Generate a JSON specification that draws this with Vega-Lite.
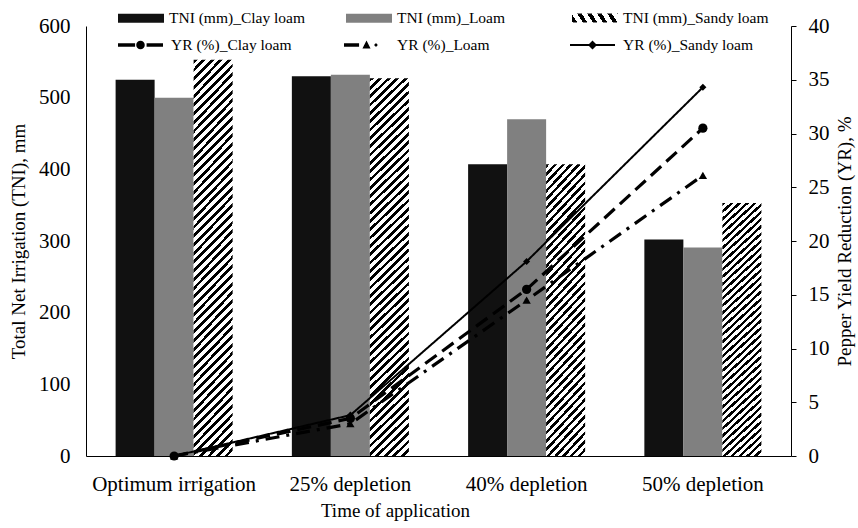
{
  "$schema": "https://vega.github.io/schema/vega-lite/v6.json",
  "width": 705,
  "height": 430,
  "autosize": "none",
  "padding": {"left": 86, "top": 26, "right": 67, "bottom": 72},
  "background": "#ffffff",
  "data": {
    "values": [
      {"time": "Optimum irrigation", "soil": "Clay loam", "tniSeries": "TNI (mm)_Clay loam", "yrSeries": "YR (%)_Clay loam", "TNI": 525, "YR": 0},
      {"time": "Optimum irrigation", "soil": "Loam", "tniSeries": "TNI (mm)_Loam", "yrSeries": "YR (%)_Loam", "TNI": 500, "YR": 0},
      {"time": "Optimum irrigation", "soil": "Sandy loam", "tniSeries": "TNI (mm)_Sandy loam", "yrSeries": "YR (%)_Sandy loam", "TNI": 553, "YR": 0},
      {"time": "25% depletion", "soil": "Clay loam", "tniSeries": "TNI (mm)_Clay loam", "yrSeries": "YR (%)_Clay loam", "TNI": 530, "YR": 3.5},
      {"time": "25% depletion", "soil": "Loam", "tniSeries": "TNI (mm)_Loam", "yrSeries": "YR (%)_Loam", "TNI": 532, "YR": 3.0},
      {"time": "25% depletion", "soil": "Sandy loam", "tniSeries": "TNI (mm)_Sandy loam", "yrSeries": "YR (%)_Sandy loam", "TNI": 527, "YR": 3.8},
      {"time": "40% depletion", "soil": "Clay loam", "tniSeries": "TNI (mm)_Clay loam", "yrSeries": "YR (%)_Clay loam", "TNI": 407, "YR": 15.5},
      {"time": "40% depletion", "soil": "Loam", "tniSeries": "TNI (mm)_Loam", "yrSeries": "YR (%)_Loam", "TNI": 470, "YR": 14.5},
      {"time": "40% depletion", "soil": "Sandy loam", "tniSeries": "TNI (mm)_Sandy loam", "yrSeries": "YR (%)_Sandy loam", "TNI": 407, "YR": 18.1},
      {"time": "50% depletion", "soil": "Clay loam", "tniSeries": "TNI (mm)_Clay loam", "yrSeries": "YR (%)_Clay loam", "TNI": 302, "YR": 30.5},
      {"time": "50% depletion", "soil": "Loam", "tniSeries": "TNI (mm)_Loam", "yrSeries": "YR (%)_Loam", "TNI": 291, "YR": 26.1},
      {"time": "50% depletion", "soil": "Sandy loam", "tniSeries": "TNI (mm)_Sandy loam", "yrSeries": "YR (%)_Sandy loam", "TNI": 353, "YR": 34.3}
    ]
  },
  "encoding": {
    "x": {
      "field": "time", "type": "nominal",
      "sort": ["Optimum irrigation", "25% depletion", "40% depletion", "50% depletion"],
      "scale": {"paddingInner": 0.336, "paddingOuter": 0.168},
      "axis": {"title": "Time of application", "labelAngle": 0, "ticks": false, "tickSize": 0, "labelPadding": 17, "titlePadding": 7, "titleX": 309}
    }
  },
  "layer": [
    {
      "mark": {"type": "bar", "strokeWidth": 0},
      "encoding": {
        "xOffset": {"field": "soil", "type": "nominal", "sort": ["Clay loam", "Loam", "Sandy loam"], "scale": {"paddingInner": 0, "paddingOuter": 0}},
        "y": {
          "field": "TNI", "type": "quantitative",
          "scale": {"domain": [0, 600], "nice": false},
          "axis": {"title": "Total Net Irrigation (TNI), mm", "values": [0, 100, 200, 300, 400, 500, 600], "ticks": false, "tickSize": 0, "labelPadding": 16, "titlePadding": 10}
        },
        "stroke": {
          "field": "tniSeries", "type": "nominal",
          "scale": {"domain": ["TNI (mm)_Sandy loam"], "range": ["#000000"]},
          "legend": {
            "title": null, "orient": "none", "legendX": 486, "legendY": -31, "direction": "horizontal",
            "symbolType": "M-1,-0.2H1V0.2H-1Z", "symbolSize": 2116, "symbolStrokeWidth": 0, "symbolOpacity": 1, "labelOffset": 5, "padding": 0,
            "encode": {
              "symbols": {
                "update": {
                  "fill": {"value": {"gradient": "linear", "x1": 0, "y1": 0, "x2": 1.1539, "y2": 0.2308, "stops": [
                    {"offset": 0, "color": "#000"}, {"offset": 0.0833, "color": "#000"}, {"offset": 0.0833, "color": "#fff"}, {"offset": 0.1667, "color": "#fff"},
                    {"offset": 0.1667, "color": "#000"}, {"offset": 0.25, "color": "#000"}, {"offset": 0.25, "color": "#fff"}, {"offset": 0.3333, "color": "#fff"},
                    {"offset": 0.3333, "color": "#000"}, {"offset": 0.4167, "color": "#000"}, {"offset": 0.4167, "color": "#fff"}, {"offset": 0.5, "color": "#fff"},
                    {"offset": 0.5, "color": "#000"}, {"offset": 0.5833, "color": "#000"}, {"offset": 0.5833, "color": "#fff"}, {"offset": 0.6667, "color": "#fff"},
                    {"offset": 0.6667, "color": "#000"}, {"offset": 0.75, "color": "#000"}, {"offset": 0.75, "color": "#fff"}, {"offset": 0.8333, "color": "#fff"},
                    {"offset": 0.8333, "color": "#000"}, {"offset": 0.9167, "color": "#000"}, {"offset": 0.9167, "color": "#fff"}, {"offset": 1, "color": "#fff"}
                  ]}},
                  "strokeWidth": {"value": 0}
                }
              }
            }
          }
        },
        "fill": {
          "field": "tniSeries", "type": "nominal",
          "scale": {"domain": ["TNI (mm)_Clay loam", "TNI (mm)_Loam"], "range": ["#111111", "#808080"]},
          "legend": {
            "title": null, "orient": "none", "legendX": 32, "legendY": -31, "direction": "horizontal", "columns": 2, "gridAlign": "all", "columnPadding": 40,
            "symbolType": "M-1,-0.2H1V0.2H-1Z", "symbolSize": 2116, "symbolStrokeWidth": 0, "symbolOpacity": 1, "labelOffset": 5, "padding": 0
          },
          "condition": [
            {"test": "datum.soil === 'Sandy loam' && datum.TNI > 500", "value": {"gradient": "linear", "x1": 0, "y1": 0, "x2": 0.1098, "y2": 1.0897, "stops": [
              {"offset": 0, "color": "#000"}, {"offset": 0.009, "color": "#000"}, {"offset": 0.009, "color": "#fff"}, {"offset": 0.02, "color": "#fff"},
              {"offset": 0.02, "color": "#000"}, {"offset": 0.029, "color": "#000"}, {"offset": 0.029, "color": "#fff"}, {"offset": 0.04, "color": "#fff"},
              {"offset": 0.04, "color": "#000"}, {"offset": 0.049, "color": "#000"}, {"offset": 0.049, "color": "#fff"}, {"offset": 0.06, "color": "#fff"},
              {"offset": 0.06, "color": "#000"}, {"offset": 0.069, "color": "#000"}, {"offset": 0.069, "color": "#fff"}, {"offset": 0.08, "color": "#fff"},
              {"offset": 0.08, "color": "#000"}, {"offset": 0.089, "color": "#000"}, {"offset": 0.089, "color": "#fff"}, {"offset": 0.1, "color": "#fff"},
              {"offset": 0.1, "color": "#000"}, {"offset": 0.109, "color": "#000"}, {"offset": 0.109, "color": "#fff"}, {"offset": 0.12, "color": "#fff"},
              {"offset": 0.12, "color": "#000"}, {"offset": 0.129, "color": "#000"}, {"offset": 0.129, "color": "#fff"}, {"offset": 0.14, "color": "#fff"},
              {"offset": 0.14, "color": "#000"}, {"offset": 0.149, "color": "#000"}, {"offset": 0.149, "color": "#fff"}, {"offset": 0.16, "color": "#fff"},
              {"offset": 0.16, "color": "#000"}, {"offset": 0.169, "color": "#000"}, {"offset": 0.169, "color": "#fff"}, {"offset": 0.18, "color": "#fff"},
              {"offset": 0.18, "color": "#000"}, {"offset": 0.189, "color": "#000"}, {"offset": 0.189, "color": "#fff"}, {"offset": 0.2, "color": "#fff"},
              {"offset": 0.2, "color": "#000"}, {"offset": 0.209, "color": "#000"}, {"offset": 0.209, "color": "#fff"}, {"offset": 0.22, "color": "#fff"},
              {"offset": 0.22, "color": "#000"}, {"offset": 0.229, "color": "#000"}, {"offset": 0.229, "color": "#fff"}, {"offset": 0.24, "color": "#fff"},
              {"offset": 0.24, "color": "#000"}, {"offset": 0.249, "color": "#000"}, {"offset": 0.249, "color": "#fff"}, {"offset": 0.26, "color": "#fff"},
              {"offset": 0.26, "color": "#000"}, {"offset": 0.269, "color": "#000"}, {"offset": 0.269, "color": "#fff"}, {"offset": 0.28, "color": "#fff"},
              {"offset": 0.28, "color": "#000"}, {"offset": 0.289, "color": "#000"}, {"offset": 0.289, "color": "#fff"}, {"offset": 0.3, "color": "#fff"},
              {"offset": 0.3, "color": "#000"}, {"offset": 0.309, "color": "#000"}, {"offset": 0.309, "color": "#fff"}, {"offset": 0.32, "color": "#fff"},
              {"offset": 0.32, "color": "#000"}, {"offset": 0.329, "color": "#000"}, {"offset": 0.329, "color": "#fff"}, {"offset": 0.34, "color": "#fff"},
              {"offset": 0.34, "color": "#000"}, {"offset": 0.349, "color": "#000"}, {"offset": 0.349, "color": "#fff"}, {"offset": 0.36, "color": "#fff"},
              {"offset": 0.36, "color": "#000"}, {"offset": 0.369, "color": "#000"}, {"offset": 0.369, "color": "#fff"}, {"offset": 0.38, "color": "#fff"},
              {"offset": 0.38, "color": "#000"}, {"offset": 0.389, "color": "#000"}, {"offset": 0.389, "color": "#fff"}, {"offset": 0.4, "color": "#fff"},
              {"offset": 0.4, "color": "#000"}, {"offset": 0.409, "color": "#000"}, {"offset": 0.409, "color": "#fff"}, {"offset": 0.42, "color": "#fff"},
              {"offset": 0.42, "color": "#000"}, {"offset": 0.429, "color": "#000"}, {"offset": 0.429, "color": "#fff"}, {"offset": 0.44, "color": "#fff"},
              {"offset": 0.44, "color": "#000"}, {"offset": 0.449, "color": "#000"}, {"offset": 0.449, "color": "#fff"}, {"offset": 0.46, "color": "#fff"},
              {"offset": 0.46, "color": "#000"}, {"offset": 0.469, "color": "#000"}, {"offset": 0.469, "color": "#fff"}, {"offset": 0.48, "color": "#fff"},
              {"offset": 0.48, "color": "#000"}, {"offset": 0.489, "color": "#000"}, {"offset": 0.489, "color": "#fff"}, {"offset": 0.5, "color": "#fff"},
              {"offset": 0.5, "color": "#000"}, {"offset": 0.509, "color": "#000"}, {"offset": 0.509, "color": "#fff"}, {"offset": 0.52, "color": "#fff"},
              {"offset": 0.52, "color": "#000"}, {"offset": 0.529, "color": "#000"}, {"offset": 0.529, "color": "#fff"}, {"offset": 0.54, "color": "#fff"},
              {"offset": 0.54, "color": "#000"}, {"offset": 0.549, "color": "#000"}, {"offset": 0.549, "color": "#fff"}, {"offset": 0.56, "color": "#fff"},
              {"offset": 0.56, "color": "#000"}, {"offset": 0.569, "color": "#000"}, {"offset": 0.569, "color": "#fff"}, {"offset": 0.58, "color": "#fff"},
              {"offset": 0.58, "color": "#000"}, {"offset": 0.589, "color": "#000"}, {"offset": 0.589, "color": "#fff"}, {"offset": 0.6, "color": "#fff"},
              {"offset": 0.6, "color": "#000"}, {"offset": 0.609, "color": "#000"}, {"offset": 0.609, "color": "#fff"}, {"offset": 0.62, "color": "#fff"},
              {"offset": 0.62, "color": "#000"}, {"offset": 0.629, "color": "#000"}, {"offset": 0.629, "color": "#fff"}, {"offset": 0.64, "color": "#fff"},
              {"offset": 0.64, "color": "#000"}, {"offset": 0.649, "color": "#000"}, {"offset": 0.649, "color": "#fff"}, {"offset": 0.66, "color": "#fff"},
              {"offset": 0.66, "color": "#000"}, {"offset": 0.669, "color": "#000"}, {"offset": 0.669, "color": "#fff"}, {"offset": 0.68, "color": "#fff"},
              {"offset": 0.68, "color": "#000"}, {"offset": 0.689, "color": "#000"}, {"offset": 0.689, "color": "#fff"}, {"offset": 0.7, "color": "#fff"},
              {"offset": 0.7, "color": "#000"}, {"offset": 0.709, "color": "#000"}, {"offset": 0.709, "color": "#fff"}, {"offset": 0.72, "color": "#fff"},
              {"offset": 0.72, "color": "#000"}, {"offset": 0.729, "color": "#000"}, {"offset": 0.729, "color": "#fff"}, {"offset": 0.74, "color": "#fff"},
              {"offset": 0.74, "color": "#000"}, {"offset": 0.749, "color": "#000"}, {"offset": 0.749, "color": "#fff"}, {"offset": 0.76, "color": "#fff"},
              {"offset": 0.76, "color": "#000"}, {"offset": 0.769, "color": "#000"}, {"offset": 0.769, "color": "#fff"}, {"offset": 0.78, "color": "#fff"},
              {"offset": 0.78, "color": "#000"}, {"offset": 0.789, "color": "#000"}, {"offset": 0.789, "color": "#fff"}, {"offset": 0.8, "color": "#fff"},
              {"offset": 0.8, "color": "#000"}, {"offset": 0.809, "color": "#000"}, {"offset": 0.809, "color": "#fff"}, {"offset": 0.82, "color": "#fff"},
              {"offset": 0.82, "color": "#000"}, {"offset": 0.829, "color": "#000"}, {"offset": 0.829, "color": "#fff"}, {"offset": 0.84, "color": "#fff"},
              {"offset": 0.84, "color": "#000"}, {"offset": 0.849, "color": "#000"}, {"offset": 0.849, "color": "#fff"}, {"offset": 0.86, "color": "#fff"},
              {"offset": 0.86, "color": "#000"}, {"offset": 0.869, "color": "#000"}, {"offset": 0.869, "color": "#fff"}, {"offset": 0.88, "color": "#fff"},
              {"offset": 0.88, "color": "#000"}, {"offset": 0.889, "color": "#000"}, {"offset": 0.889, "color": "#fff"}, {"offset": 0.9, "color": "#fff"},
              {"offset": 0.9, "color": "#000"}, {"offset": 0.909, "color": "#000"}, {"offset": 0.909, "color": "#fff"}, {"offset": 0.92, "color": "#fff"},
              {"offset": 0.92, "color": "#000"}, {"offset": 0.929, "color": "#000"}, {"offset": 0.929, "color": "#fff"}, {"offset": 0.94, "color": "#fff"},
              {"offset": 0.94, "color": "#000"}, {"offset": 0.949, "color": "#000"}, {"offset": 0.949, "color": "#fff"}, {"offset": 0.96, "color": "#fff"},
              {"offset": 0.96, "color": "#000"}, {"offset": 0.969, "color": "#000"}, {"offset": 0.969, "color": "#fff"}, {"offset": 0.98, "color": "#fff"},
              {"offset": 0.98, "color": "#000"}, {"offset": 0.989, "color": "#000"}, {"offset": 0.989, "color": "#fff"}, {"offset": 1, "color": "#fff"}
            ]}},
            {"test": "datum.soil === 'Sandy loam'", "value": {"gradient": "linear", "x1": 0, "y1": 0, "x2": 0.1606, "y2": 1.1204, "stops": [
              {"offset": 0, "color": "#000"}, {"offset": 0.011, "color": "#000"}, {"offset": 0.011, "color": "#fff"}, {"offset": 0.025, "color": "#fff"},
              {"offset": 0.025, "color": "#000"}, {"offset": 0.036, "color": "#000"}, {"offset": 0.036, "color": "#fff"}, {"offset": 0.05, "color": "#fff"},
              {"offset": 0.05, "color": "#000"}, {"offset": 0.061, "color": "#000"}, {"offset": 0.061, "color": "#fff"}, {"offset": 0.075, "color": "#fff"},
              {"offset": 0.075, "color": "#000"}, {"offset": 0.086, "color": "#000"}, {"offset": 0.086, "color": "#fff"}, {"offset": 0.1, "color": "#fff"},
              {"offset": 0.1, "color": "#000"}, {"offset": 0.111, "color": "#000"}, {"offset": 0.111, "color": "#fff"}, {"offset": 0.125, "color": "#fff"},
              {"offset": 0.125, "color": "#000"}, {"offset": 0.136, "color": "#000"}, {"offset": 0.136, "color": "#fff"}, {"offset": 0.15, "color": "#fff"},
              {"offset": 0.15, "color": "#000"}, {"offset": 0.161, "color": "#000"}, {"offset": 0.161, "color": "#fff"}, {"offset": 0.175, "color": "#fff"},
              {"offset": 0.175, "color": "#000"}, {"offset": 0.186, "color": "#000"}, {"offset": 0.186, "color": "#fff"}, {"offset": 0.2, "color": "#fff"},
              {"offset": 0.2, "color": "#000"}, {"offset": 0.211, "color": "#000"}, {"offset": 0.211, "color": "#fff"}, {"offset": 0.225, "color": "#fff"},
              {"offset": 0.225, "color": "#000"}, {"offset": 0.236, "color": "#000"}, {"offset": 0.236, "color": "#fff"}, {"offset": 0.25, "color": "#fff"},
              {"offset": 0.25, "color": "#000"}, {"offset": 0.261, "color": "#000"}, {"offset": 0.261, "color": "#fff"}, {"offset": 0.275, "color": "#fff"},
              {"offset": 0.275, "color": "#000"}, {"offset": 0.286, "color": "#000"}, {"offset": 0.286, "color": "#fff"}, {"offset": 0.3, "color": "#fff"},
              {"offset": 0.3, "color": "#000"}, {"offset": 0.311, "color": "#000"}, {"offset": 0.311, "color": "#fff"}, {"offset": 0.325, "color": "#fff"},
              {"offset": 0.325, "color": "#000"}, {"offset": 0.336, "color": "#000"}, {"offset": 0.336, "color": "#fff"}, {"offset": 0.35, "color": "#fff"},
              {"offset": 0.35, "color": "#000"}, {"offset": 0.361, "color": "#000"}, {"offset": 0.361, "color": "#fff"}, {"offset": 0.375, "color": "#fff"},
              {"offset": 0.375, "color": "#000"}, {"offset": 0.386, "color": "#000"}, {"offset": 0.386, "color": "#fff"}, {"offset": 0.4, "color": "#fff"},
              {"offset": 0.4, "color": "#000"}, {"offset": 0.411, "color": "#000"}, {"offset": 0.411, "color": "#fff"}, {"offset": 0.425, "color": "#fff"},
              {"offset": 0.425, "color": "#000"}, {"offset": 0.436, "color": "#000"}, {"offset": 0.436, "color": "#fff"}, {"offset": 0.45, "color": "#fff"},
              {"offset": 0.45, "color": "#000"}, {"offset": 0.461, "color": "#000"}, {"offset": 0.461, "color": "#fff"}, {"offset": 0.475, "color": "#fff"},
              {"offset": 0.475, "color": "#000"}, {"offset": 0.486, "color": "#000"}, {"offset": 0.486, "color": "#fff"}, {"offset": 0.5, "color": "#fff"},
              {"offset": 0.5, "color": "#000"}, {"offset": 0.511, "color": "#000"}, {"offset": 0.511, "color": "#fff"}, {"offset": 0.525, "color": "#fff"},
              {"offset": 0.525, "color": "#000"}, {"offset": 0.536, "color": "#000"}, {"offset": 0.536, "color": "#fff"}, {"offset": 0.55, "color": "#fff"},
              {"offset": 0.55, "color": "#000"}, {"offset": 0.561, "color": "#000"}, {"offset": 0.561, "color": "#fff"}, {"offset": 0.575, "color": "#fff"},
              {"offset": 0.575, "color": "#000"}, {"offset": 0.586, "color": "#000"}, {"offset": 0.586, "color": "#fff"}, {"offset": 0.6, "color": "#fff"},
              {"offset": 0.6, "color": "#000"}, {"offset": 0.611, "color": "#000"}, {"offset": 0.611, "color": "#fff"}, {"offset": 0.625, "color": "#fff"},
              {"offset": 0.625, "color": "#000"}, {"offset": 0.636, "color": "#000"}, {"offset": 0.636, "color": "#fff"}, {"offset": 0.65, "color": "#fff"},
              {"offset": 0.65, "color": "#000"}, {"offset": 0.661, "color": "#000"}, {"offset": 0.661, "color": "#fff"}, {"offset": 0.675, "color": "#fff"},
              {"offset": 0.675, "color": "#000"}, {"offset": 0.686, "color": "#000"}, {"offset": 0.686, "color": "#fff"}, {"offset": 0.7, "color": "#fff"},
              {"offset": 0.7, "color": "#000"}, {"offset": 0.711, "color": "#000"}, {"offset": 0.711, "color": "#fff"}, {"offset": 0.725, "color": "#fff"},
              {"offset": 0.725, "color": "#000"}, {"offset": 0.736, "color": "#000"}, {"offset": 0.736, "color": "#fff"}, {"offset": 0.75, "color": "#fff"},
              {"offset": 0.75, "color": "#000"}, {"offset": 0.761, "color": "#000"}, {"offset": 0.761, "color": "#fff"}, {"offset": 0.775, "color": "#fff"},
              {"offset": 0.775, "color": "#000"}, {"offset": 0.786, "color": "#000"}, {"offset": 0.786, "color": "#fff"}, {"offset": 0.8, "color": "#fff"},
              {"offset": 0.8, "color": "#000"}, {"offset": 0.811, "color": "#000"}, {"offset": 0.811, "color": "#fff"}, {"offset": 0.825, "color": "#fff"},
              {"offset": 0.825, "color": "#000"}, {"offset": 0.836, "color": "#000"}, {"offset": 0.836, "color": "#fff"}, {"offset": 0.85, "color": "#fff"},
              {"offset": 0.85, "color": "#000"}, {"offset": 0.861, "color": "#000"}, {"offset": 0.861, "color": "#fff"}, {"offset": 0.875, "color": "#fff"},
              {"offset": 0.875, "color": "#000"}, {"offset": 0.886, "color": "#000"}, {"offset": 0.886, "color": "#fff"}, {"offset": 0.9, "color": "#fff"},
              {"offset": 0.9, "color": "#000"}, {"offset": 0.911, "color": "#000"}, {"offset": 0.911, "color": "#fff"}, {"offset": 0.925, "color": "#fff"},
              {"offset": 0.925, "color": "#000"}, {"offset": 0.936, "color": "#000"}, {"offset": 0.936, "color": "#fff"}, {"offset": 0.95, "color": "#fff"},
              {"offset": 0.95, "color": "#000"}, {"offset": 0.961, "color": "#000"}, {"offset": 0.961, "color": "#fff"}, {"offset": 0.975, "color": "#fff"},
              {"offset": 0.975, "color": "#000"}, {"offset": 0.986, "color": "#000"}, {"offset": 0.986, "color": "#fff"}, {"offset": 1, "color": "#fff"}
            ]}}
          ]
        }
      }
    },
    {
      "encoding": {
        "y": {
          "field": "YR", "type": "quantitative",
          "scale": {"domain": [0, 40], "nice": false},
          "axis": {"orient": "right", "title": "Pepper Yield Reduction (YR), %", "values": [0, 5, 10, 15, 20, 25, 30, 35, 40], "tickSize": 5, "labelPadding": 12, "titleAngle": 270, "titleBaseline": "top", "titlePadding": 6}
        }
      },
      "layer": [
        {
          "mark": {"type": "line", "strokeCap": "butt", "color": "#000000"},
          "encoding": {
            "strokeDash": {
              "field": "soil", "type": "nominal",
              "scale": {"domain": ["Clay loam", "Loam", "Sandy loam"], "range": [[14, 7], [14, 7, 3, 7], [1, 0]]},
              "legend": null
            },
            "strokeWidth": {"condition": {"test": "datum.soil === 'Sandy loam'", "value": 2}, "value": 3.2}
          }
        },
        {
          "mark": {"type": "point", "filled": true, "opacity": 1, "color": "#000000"},
          "encoding": {
            "shape": {"condition": [{"test": "datum.soil === 'Clay loam'", "value": "circle"}, {"test": "datum.soil === 'Loam'", "value": "triangle-up"}], "value": "diamond"},
            "size": {"condition": [{"test": "datum.soil === 'Clay loam'", "value": 85}, {"test": "datum.soil === 'Loam'", "value": 70}], "value": 50}
          }
        },
        {
          "mark": {"type": "point", "filled": true, "opacity": 0, "color": "#000000"},
          "encoding": {
            "shape": {
              "field": "yrSeries", "type": "nominal",
              "scale": {
                "domain": ["YR (%)_Clay loam", "YR (%)_Loam", "YR (%)_Sandy loam"],
                "range": [
                  "M-1,-0.08H-0.24V0.08H-1Z M0.27,-0.08H1V0.08H0.27Z M-0.19,0A0.19,0.19 0 1,0 0.19,0A0.19,0.19 0 1,0 -0.19,0Z",
                  "M-1,-0.08H-0.33V0.08H-1Z M-0.18,0.16L0,-0.2L0.18,0.16Z M0.35,0A0.07,0.07 0 1,0 0.49,0A0.07,0.07 0 1,0 0.35,0Z",
                  "M-1,-0.045H1V0.045H-1Z M0,-0.2L0.2,0L0,0.2L-0.2,0Z"
                ]
              },
              "legend": {
                "title": null, "orient": "none", "legendX": 32, "legendY": -3.5, "direction": "horizontal", "columns": 3, "gridAlign": "all", "columnPadding": 42,
                "symbolSize": 2025, "symbolStrokeWidth": 0, "symbolOpacity": 1, "symbolFillColor": "#000000", "labelOffset": 8, "padding": 0
              }
            }
          }
        }
      ]
    }
  ],
  "resolve": {"scale": {"y": "independent"}},
  "config": {
    "view": {"stroke": null},
    "font": "Liberation Serif",
    "axis": {
      "labelFont": "Liberation Serif", "titleFont": "Liberation Serif", "labelColor": "#000", "titleColor": "#000",
      "labelFontSize": 21, "titleFontSize": 19, "titleFontWeight": "normal", "grid": false,
      "domainColor": "#000", "tickColor": "#000", "domainWidth": 1
    },
    "legend": {"labelFont": "Liberation Serif", "labelFontSize": 15.5, "labelColor": "#000", "labelLimit": 300}
  }
}
